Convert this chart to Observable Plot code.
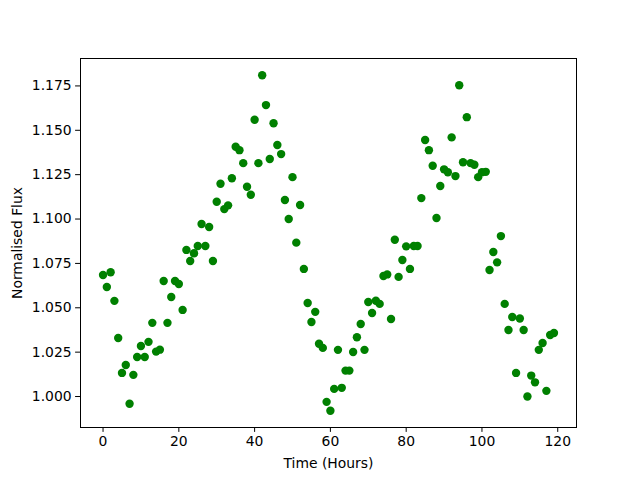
<!DOCTYPE html>
<html>
<head>
<meta charset="utf-8">
<script src="https://cdn.jsdelivr.net/npm/d3@7"></script>
<script src="https://cdn.jsdelivr.net/npm/@observablehq/plot@0.6"></script>
<style>
  html, body { margin: 0; padding: 0; background: #fff; }
</style>
</head>
<body>
<div id="chart"></div>
<script>
// Time in hours (one reading per hour)
const hours = d3.range(0, 120);
// Normalised flux values
const flux = [
  1.0685, 1.0617, 1.0700, 1.0539, 1.0330, 1.0133, 1.0178, 0.9959, 1.0122, 1.0223,
  1.0285, 1.0223, 1.0308, 1.0415, 1.0253, 1.0264, 1.0651, 1.0415, 1.0561, 1.0651,
  1.0634, 1.0488, 1.0826, 1.0764, 1.0807, 1.0848, 1.0972, 1.0848, 1.0955, 1.0764,
  1.1097, 1.1199, 1.1056, 1.1077, 1.1230, 1.1407, 1.1388, 1.1315, 1.1182, 1.1137,
  1.1559, 1.1315, 1.1810, 1.1642, 1.1338, 1.1540, 1.1417, 1.1366, 1.1107, 1.1000,
  1.1236, 1.0867, 1.1079, 1.0719, 1.0527, 1.0420, 1.0477, 1.0297, 1.0274, 0.9970,
  0.9920, 1.0043, 1.0263, 1.0049, 1.0146, 1.0146, 1.0251, 1.0334, 1.0409, 1.0263,
  1.0533, 1.0471, 1.0540, 1.0522, 1.0679, 1.0688, 1.0437, 1.0883, 1.0674, 1.0769,
  1.0846, 1.0719, 1.0848, 1.0848, 1.1118, 1.1445, 1.1388, 1.1300, 1.1006, 1.1186,
  1.1280, 1.1264, 1.1460, 1.1242, 1.1754, 1.1320, 1.1574, 1.1315, 1.1306, 1.1236,
  1.1264, 1.1266, 1.0713, 1.0814, 1.0756, 1.0904, 1.0522, 1.0375, 1.0448, 1.0133,
  1.0440, 1.0375, 1.0000, 1.0118, 1.0080, 1.0263, 1.0302, 1.0032, 1.0347, 1.0358
];
const xTicks = [0, 20, 40, 60, 80, 100, 120];
const yTicks = [1.000, 1.025, 1.050, 1.075, 1.100, 1.125, 1.150, 1.175];

const data = hours.map((h, i) => ({time: h, flux: flux[i]}));

const xMin = d3.min(hours), xMax = d3.max(hours);
const yMin = d3.min(flux), yMax = d3.max(flux);
const xPad = (xMax - xMin) * 0.05, yPad = (yMax - yMin) * 0.05;

const chart = Plot.plot({
  width: 640,
  height: 480,
  marginLeft: 80,
  marginRight: 64,
  marginTop: 58,
  marginBottom: 53,
  style: {fontFamily: "DejaVu Sans", fontSize: "13.9px", color: "#000", background: "#fff"},
  x: {domain: [xMin - xPad, xMax + xPad]},
  y: {domain: [yMin - yPad, yMax + yPad]},
  marks: [
    Plot.dot(data, {x: "time", y: "flux", r: 4.2, fill: "#008000", stroke: "none"}),
    Plot.frame({stroke: "#000", strokeWidth: 1}),
    Plot.axisX({ticks: xTicks, tickSize: 4.9, tickPadding: 4, label: "Time (Hours)",
      labelAnchor: "center", labelArrow: "none", labelOffset: 40, strokeWidth: 1}),
    Plot.axisY({ticks: yTicks, tickFormat: d3.format(".3f"), tickSize: 4.9, tickPadding: 4,
      label: "Normalised Flux", labelAnchor: "center", labelArrow: "none", labelOffset: 68, strokeWidth: 1})
  ]
});
document.getElementById("chart").appendChild(chart);
</script>
</body>
</html>
